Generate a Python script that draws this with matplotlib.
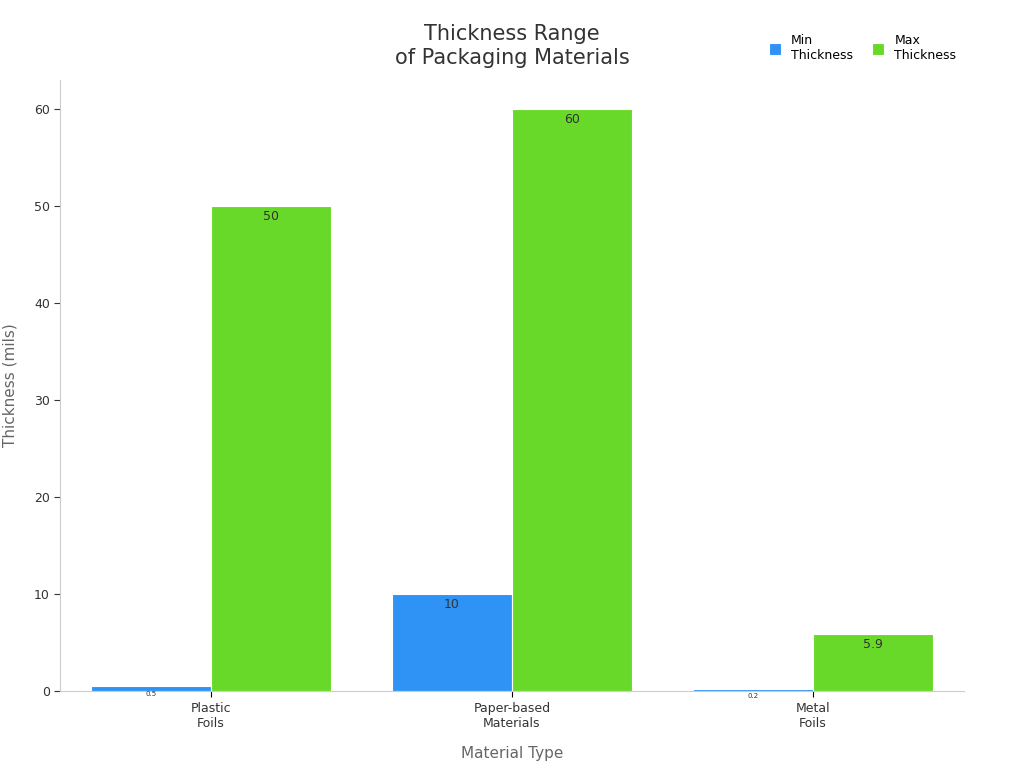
import matplotlib.pyplot as plt
import numpy as np

categories = ["Plastic\nFoils", "Paper-based\nMaterials", "Metal\nFoils"]
min_thickness = [0.5, 10, 0.2]
max_thickness = [50, 60, 5.9]
min_labels = ["0.5", "10", "0.2"]
max_labels = ["50", "60", "5.9"]

fig = plt.figure(figsize=(10.24, 7.68), dpi=100)
ax = fig.add_axes([0.059, 0.1, 0.882, 0.796])

x = np.arange(len(categories))
w = 0.4
b1 = ax.bar(x - w / 2, min_thickness, w, color="#2f92f5", edgecolor="white", linewidth=0.8, label="Min\nThickness")
b2 = ax.bar(x + w / 2, max_thickness, w, color="#68d928", edgecolor="white", linewidth=0.8, label="Max\nThickness")

for bars, labs in ((b1, min_labels), (b2, max_labels)):
    for bar, lab in zip(bars, labs):
        h = bar.get_height()
        fs = 9 if h > 3 else 5
        ax.annotate(lab, (bar.get_x() + bar.get_width() / 2, h), xytext=(0, -3),
                    textcoords="offset points", ha="center", va="top", fontsize=fs, color="#333333")

ax.set_xlim(-0.5, 2.5)
ax.set_ylim(0, 63)
ax.set_yticks([0, 10, 20, 30, 40, 50, 60])
ax.set_xticks(x)
ax.set_xticklabels(categories, fontsize=9, color="#333333")
ax.tick_params(axis="y", labelsize=9, colors="#333333", length=4)
ax.tick_params(axis="x", length=4)
for s in ("top", "right"):
    ax.spines[s].set_visible(False)
for s in ("left", "bottom"):
    ax.spines[s].set_color("#cccccc")
ax.set_xlabel("Material Type", fontsize=11, color="#666666", labelpad=12)
ax.set_ylabel("Thickness (mils)", fontsize=11, color="#666666", labelpad=12)

fig.text(0.5, 0.94, "Thickness Range\nof Packaging Materials", ha="center", va="center",
         fontsize=15, color="#333333", linespacing=1.3)
fig.legend(loc="upper right", bbox_to_anchor=(0.945, 0.97), ncol=2, frameon=False,
           fontsize=9, handlelength=1, handleheight=1, columnspacing=1.5)

fig.savefig("out.png")
